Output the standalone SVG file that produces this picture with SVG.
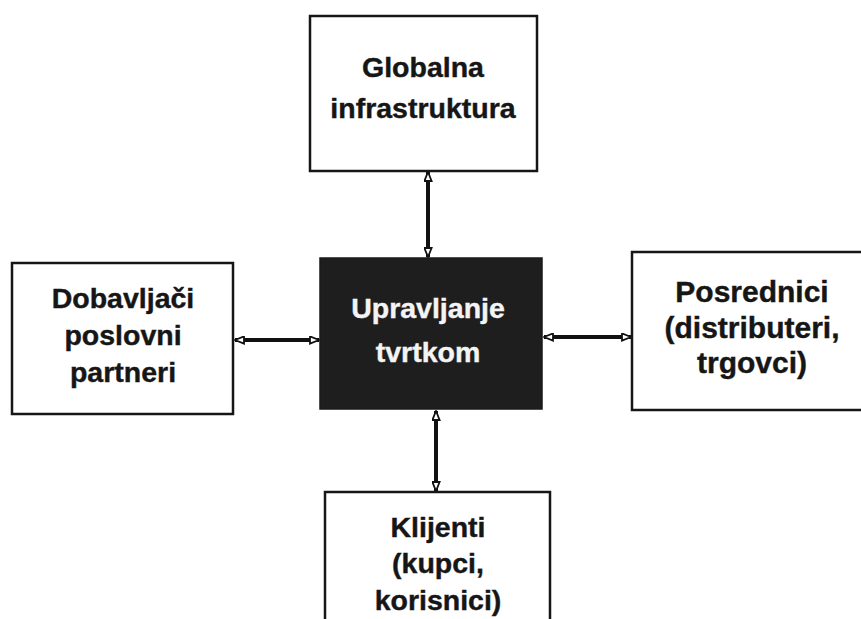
<svg xmlns="http://www.w3.org/2000/svg" width="861" height="619" viewBox="0 0 861 619">
<defs>
<marker id="ah" viewBox="0 0 12 10" refX="11" refY="5" markerWidth="11" markerHeight="9" markerUnits="userSpaceOnUse" orient="auto-start-reverse">
<path d="M1,1 L11,5 L1,9 Z" fill="#ffffff" stroke="#111111" stroke-width="2" stroke-linejoin="miter"/>
</marker>
<style>
.box{fill:#ffffff;stroke:#161616;stroke-width:2.5}
.dark{fill:#1e1e1e;stroke:#1a1a1a;stroke-width:1.5}
.t{font-family:"Liberation Sans",Arial,sans-serif;font-weight:bold;font-size:28.5px;fill:#161616;stroke:#161616;stroke-width:0.4;text-anchor:middle}
.w{fill:#f4f4f4;stroke:#f4f4f4}
.r{font-size:30px}
.c{stroke:#111111;stroke-width:4;fill:none}
</style>
</defs>
<rect width="861" height="619" fill="#ffffff"/>
<g id="connectors">
<line class="c" x1="428" y1="172" x2="428" y2="257" marker-start="url(#ah)" marker-end="url(#ah)"/>
<line class="c" x1="235" y1="340" x2="319" y2="340" marker-start="url(#ah)" marker-end="url(#ah)"/>
<line class="c" x1="544" y1="337" x2="631" y2="337" marker-start="url(#ah)" marker-end="url(#ah)"/>
<line class="c" x1="436" y1="411" x2="436" y2="491" marker-start="url(#ah)" marker-end="url(#ah)"/>
</g>
<g id="globalna">
<rect class="box" x="310" y="16" width="227" height="155"/>
<text class="t" x="423" y="77">Globalna</text>
<text class="t" x="423" y="118">infrastruktura</text>
</g>
<g id="dobavljaci">
<rect class="box" x="12" y="263" width="221" height="151"/>
<text class="t" x="123" y="308">Dobavljači</text>
<text class="t" x="123" y="345">poslovni</text>
<text class="t" x="123" y="382">partneri</text>
</g>
<g id="upravljanje">
<rect class="dark" x="320" y="258" width="222" height="151"/>
<text class="t w" x="428" y="318">Upravljanje</text>
<text class="t w" x="428" y="362">tvrtkom</text>
</g>
<g id="posrednici">
<rect class="box" x="632" y="252" width="240" height="158"/>
<text class="t r" x="752" y="302">Posrednici</text>
<text class="t r" x="752" y="338">(distributeri,</text>
<text class="t r" x="752" y="373">trgovci)</text>
</g>
<g id="klijenti">
<rect class="box" x="325" y="492" width="225" height="140"/>
<text class="t" x="438" y="537">Klijenti</text>
<text class="t" x="438" y="573">(kupci,</text>
<text class="t" x="438" y="610">korisnici)</text>
</g>
</svg>
